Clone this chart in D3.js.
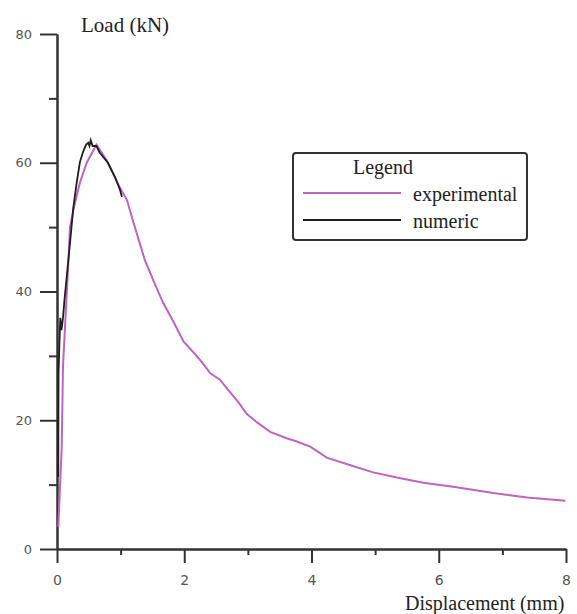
<!DOCTYPE html>
<html>
<head>
<meta charset="utf-8">
<script src="https://cdn.jsdelivr.net/npm/d3@7"></script>
<style>
  body { margin: 0; background: #fff; }
  .tick text { font-family: "DejaVu Sans", sans-serif; fill: #555; }
  .serif { font-family: "Liberation Serif", "DejaVu Serif", serif; fill: #222; }
</style>
</head>
<body>
<svg class="chart"></svg>
<script>
// experimental curve, displacement (mm) vs load (kN)
var expDisp = [0.02, 0.047, 0.074, 0.094, 0.126, 0.178, 0.204, 0.267, 0.36, 0.467, 0.62,
  0.78, 0.99, 1.10, 1.19, 1.38, 1.51, 1.67, 1.83, 1.99, 2.14, 2.28, 2.41, 2.56, 2.69,
  2.85, 2.98, 3.14, 3.35, 3.61, 3.77, 3.98, 4.24, 4.55, 4.97, 5.34, 5.76, 6.28, 6.86, 7.39, 7.99];
var expLoad = [3.4, 9.6, 15.8, 28.3, 34.5, 44.4, 50.0, 53.1, 56.9, 60.0, 62.8,
  60.4, 56.1, 54.2, 51.1, 44.9, 41.8, 38.2, 35.3, 32.2, 30.6, 29.0, 27.3, 26.3, 24.7,
  22.8, 21.0, 19.7, 18.2, 17.2, 16.7, 15.9, 14.2, 13.2, 11.9, 11.1, 10.3, 9.6, 8.7, 8.0, 7.5];

// numeric curve
var numDisp = [0.02, 0.024, 0.04, 0.052, 0.07, 0.094, 0.118, 0.153, 0.204, 0.256, 0.31,
  0.36, 0.41, 0.456, 0.49, 0.51, 0.53, 0.56, 0.62, 0.67, 0.80, 0.91, 0.99, 1.02];
var numLoad = [11.2, 27.3, 32.5, 35.9, 34.0, 35.9, 38.7, 42.3, 47.5, 53.0, 56.9,
  60.1, 61.7, 62.8, 63.1, 62.6, 63.5, 62.6, 62.6, 61.6, 60.0, 57.8, 55.8, 54.7];

var xMajor = [0, 2, 4, 6, 8];
var xMinor = [1, 3, 5, 7];
var yMajor = [0, 20, 40, 60, 80];
var yMinor = [10, 30, 50, 70];

var seriesNames = ['experimental', 'numeric'];
var seriesColors = ['#c163c1', '#1e1e1e'];

var width = 577, height = 614;
var svg = d3.select('.chart').attr('width', width).attr('height', height);

var x = d3.scaleLinear().domain([0, 8]).range([57, 566]);
var y = d3.scaleLinear().domain([0, 80]).range([549, 34]);

function styleAxis(g) {
  g.selectAll('path, line').attr('stroke', '#333').attr('stroke-width', 2);
}

// y axis
svg.append('g').attr('transform', 'translate(' + x(0) + ',0)')
  .call(d3.axisLeft(y).tickValues(yMinor).tickSize(8).tickSizeOuter(0).tickFormat(''))
  .call(styleAxis);
svg.append('g').attr('transform', 'translate(' + x(0) + ',0)')
  .call(d3.axisLeft(y).tickValues(yMajor).tickSize(17).tickSizeOuter(0).tickPadding(8))
  .call(styleAxis)
  .call(function(g) { g.selectAll('text').style('font-size', '13px'); });

// x axis
svg.append('g').attr('transform', 'translate(0,' + y(0) + ')')
  .call(d3.axisBottom(x).tickValues(xMinor).tickSize(6).tickSizeOuter(0).tickFormat(''))
  .call(styleAxis);
svg.append('g').attr('transform', 'translate(0,' + y(0) + ')')
  .call(d3.axisBottom(x).tickValues(xMajor).tickSize(14).tickSizeOuter(0).tickPadding(12))
  .call(styleAxis)
  .call(function(g) { g.selectAll('text').style('font-size', '14px'); });

// curves
var line = d3.line()
  .x(function(d) { return x(d[0]); })
  .y(function(d) { return y(d[1]); });

svg.append('path')
  .datum(d3.zip(expDisp, expLoad))
  .attr('d', line)
  .attr('fill', 'none')
  .attr('stroke', seriesColors[0])
  .attr('stroke-width', 2);

svg.append('path')
  .datum(d3.zip(numDisp, numLoad))
  .attr('d', line)
  .attr('fill', 'none')
  .attr('stroke', seriesColors[1])
  .attr('stroke-width', 1.8);

// axis titles
svg.append('text').attr('class', 'serif')
  .attr('x', 81).attr('y', 32)
  .style('font-size', '21px')
  .text('Load (kN)');
svg.append('text').attr('class', 'serif')
  .attr('x', 405).attr('y', 610)
  .style('font-size', '20px')
  .text('Displacement (mm)');

// legend
var legend = svg.append('g').attr('transform', 'translate(293,153)');
legend.append('rect')
  .attr('width', 234).attr('height', 87).attr('rx', 3)
  .attr('fill', '#fff').attr('stroke', '#333').attr('stroke-width', 2);
legend.append('text').attr('class', 'serif')
  .attr('x', 60).attr('y', 21)
  .style('font-size', '20px')
  .text('Legend');
var items = legend.selectAll('.item')
  .data(seriesNames)
  .enter().append('g')
  .attr('class', 'item')
  .attr('transform', function(d, i) { return 'translate(0,' + (40 + i * 27) + ')'; });
items.append('line')
  .attr('x1', 10).attr('x2', 108)
  .attr('stroke', function(d, i) { return seriesColors[i]; })
  .attr('stroke-width', 2);
items.append('text').attr('class', 'serif')
  .attr('x', 120).attr('y', 8)
  .style('font-size', '20px')
  .text(function(d) { return d; });
</script>
</body>
</html>
